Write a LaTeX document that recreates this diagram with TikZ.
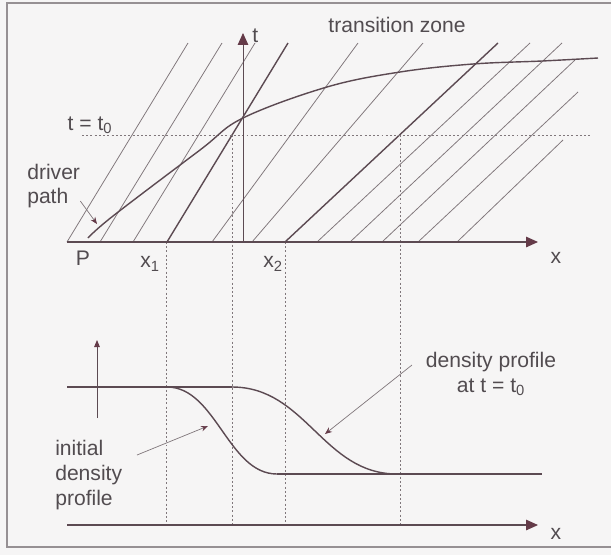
\documentclass[tikz,border=0pt]{standalone}
\usepackage{fontspec}
\setmainfont{Liberation Sans}
\usetikzlibrary{arrows.meta}
\definecolor{ink}{RGB}{92,74,82}
\definecolor{tipred}{RGB}{100,58,72}
\definecolor{thingray}{RGB}{128,119,123}
\definecolor{txtgray}{RGB}{82,76,80}
\definecolor{paper}{RGB}{246,245,245}
\definecolor{framegray}{RGB}{150,144,147}

\begin{document}
\begin{tikzpicture}[
    x=0.025cm, y=-0.025cm,
    font=\fontsize{15}{17.5}\selectfont,
    every node/.style={text=txtgray, inner sep=0pt},
    charline/.style={line width=0.55pt, draw=thingray},
    charthick/.style={line width=1pt, draw=ink},
    axis/.style={line width=0.75pt, draw=ink, -{Triangle[length=8.5pt, width=7.5pt, color=tipred]}},
    guide/.style={line width=0.6pt, draw=thingray, dash pattern=on 1.4pt off 1.6pt},
    pointer/.style={line width=0.5pt, draw=thingray, -{Stealth[length=5pt, width=4pt, color=tipred]}},
    profile/.style={line width=1pt, draw=ink}
]
% Paper and frame
\fill[paper] (0,0) rectangle (611,555);
\useasboundingbox (0,0) rectangle (611,555);
\draw[line width=0.9pt, framegray] (611,3) -- (7,3) -- (7,547) -- (611,547);
% Key points
\coordinate (o) at (243,242);
\coordinate (x1) at (166,242);
\coordinate (x2) at (285,242);
\coordinate (p1) at (232,135);
\coordinate (p2) at (400,135);
\coordinate (xb) at (243,525);
% Characteristics
\foreach \b/\tx/\ty in {67/188/43, 100/222/43, 133/255/43, 212/358/43, 252/423/43,
                        317/530/43, 350/562/43, 382/575/60, 418/578/92, 457/563/140}
  \draw[charline] (\b,242) -- (\tx,\ty);
\draw[charthick] (167,242) -- (288,43);
\draw[charthick] (x2) -- (498,43);
% Guides
\draw[guide] (82,135) -- (590,135);
\draw[guide] (x1) -- (x1 |- xb);
\draw[guide] (x2) -- (x2 |- xb);
\draw[guide] (p1) -- (p1 |- xb);
\draw[guide] (p2) -- (p2 |- xb);
% Axes
\draw[axis] (67,242) -- (538,242);
\draw[axis, line width=0.6pt] (o) -- (243,33);
\draw[axis] (67,525) -- (538,525);
\draw[line width=0.6pt, ink, -{Triangle[length=5pt, width=4pt, color=tipred]}] (97,418) -- (97,340);
% Driver path
\draw[profile] plot[smooth, tension=0.6] coordinates {(88,238) (113,216) (200,150) (243,118)
  (327,87) (400,72) (473,64) (542,61) (598,58)};
% Density profiles
\draw[profile] (67,387) -- (232,387);
\draw[profile] (167,387) .. controls (216,387) and (228,474) .. (277,474);
\draw[profile] (232,387) .. controls (306,387) and (323,474) .. (397,474);
\draw[profile] (277,474) -- (542,474);
% Labels
\node[anchor=west] (tlab) at (252,36) {t};
\node (zone) at (397,25) {transition zone};
\node (t0lab) at (90,125) {t = t\textsubscript{0}};
\node[align=left, anchor=west] (driver) at (27,186) {driver\\path};
\node (plab) at (83,258) {P};
\node (x1lab) at (150,264) {x\textsubscript{1}};
\node (x2lab) at (273,264) {x\textsubscript{2}};
\node (xlab) at (556,258) {x};
\node (xlabb) at (556,534) {x};
\node[align=left, anchor=west] (initial) at (55,475) {initial\\density\\profile};
\node[align=center] (current) at (491,374) {density profile\\at t = t\textsubscript{0}};
% Pointers
\coordinate (dtip) at (97,224);
\coordinate (itip) at (208,426);
\coordinate (ctip) at (325,434);
\draw[pointer] ([shift={(0,15)}]driver.east) -- (dtip);
\draw[pointer] (137,455) -- (itip);
\draw[pointer] (412,365) -- (ctip);
\end{tikzpicture}
\end{document}
